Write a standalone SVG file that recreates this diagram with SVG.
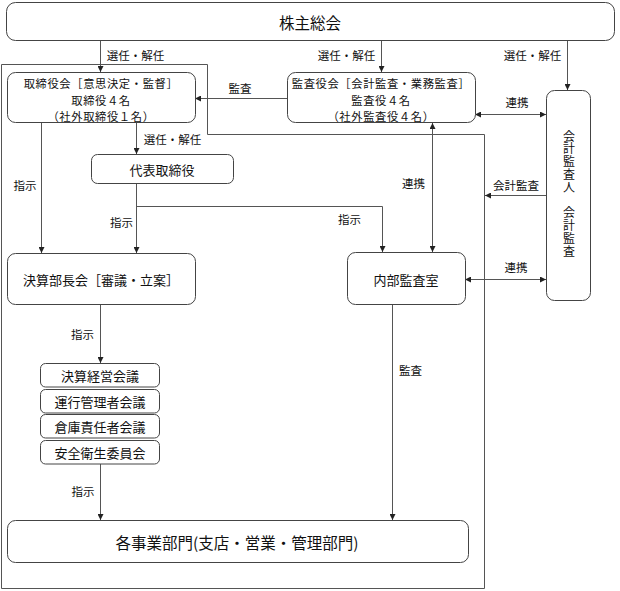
<svg xmlns="http://www.w3.org/2000/svg" width="620" height="591" viewBox="0 0 620 591">
<style>
text{font-family:"Noto Sans CJK JP","Noto Sans",sans-serif;fill:#111;dominant-baseline:central;text-anchor:middle}
.box{fill:#fff;stroke:#444;stroke-width:1}
.ln{fill:none;stroke:#555;stroke-width:1}
.lbl{font-size:11.5px}
.n{font-size:11.3px;letter-spacing:0.6px}
.v{font-size:12px;writing-mode:vertical-rl;text-anchor:start;letter-spacing:0.8px}
.n13{font-size:13px}
.big{font-size:15.5px}
</style>
<defs>
<marker id="ah" viewBox="0 0 6 6" refX="6" refY="3" markerWidth="6" markerHeight="6" markerUnits="userSpaceOnUse" orient="auto-start-reverse">
<path d="M0,0 L6,3 L0,6 z" fill="#222"/>
</marker>
</defs>
<rect width="620" height="591" fill="#fff"/>
<g id="boundary">
<path class="ln" d="M1.5,64.5 H207.5 V134.5 H484.5 V588.5 H1.5 Z"/>
</g>
<g id="connectors">
<path class="ln" d="M100.5,41 V72" marker-end="url(#ah)"/>
<path class="ln" d="M381.5,41 V72" marker-end="url(#ah)"/>
<path class="ln" d="M567.5,41 V90" marker-end="url(#ah)"/>
<path class="ln" d="M287,98.5 H195" marker-end="url(#ah)"/>
<path class="ln" d="M475,114.5 H546" marker-start="url(#ah)" marker-end="url(#ah)"/>
<path class="ln" d="M136.5,123 V154" marker-end="url(#ah)"/>
<path class="ln" d="M41.5,123 V253" marker-end="url(#ah)"/>
<path class="ln" d="M136.5,183 V253" marker-end="url(#ah)"/>
<path class="ln" d="M136.5,206.5 H382.5 V252" marker-end="url(#ah)"/>
<path class="ln" d="M432.5,123 V252" marker-start="url(#ah)" marker-end="url(#ah)"/>
<path class="ln" d="M546,195.5 H485" marker-end="url(#ah)"/>
<path class="ln" d="M465,279.5 H546" marker-start="url(#ah)" marker-end="url(#ah)"/>
<path class="ln" d="M100.5,304 V363" marker-end="url(#ah)"/>
<path class="ln" d="M100.5,464 V520" marker-end="url(#ah)"/>
<path class="ln" d="M392.5,304 V520" marker-end="url(#ah)"/>
<text class="lbl" x="135.5" y="55">選任・解任</text>
<text class="lbl" x="346.5" y="55">選任・解任</text>
<text class="lbl" x="532.5" y="55">選任・解任</text>
<text class="lbl" x="240" y="88">監査</text>
<text class="lbl" x="517" y="102">連携</text>
<text class="lbl" x="172.5" y="139">選任・解任</text>
<text class="lbl" x="25" y="185">指示</text>
<text class="lbl" x="121.5" y="221.5">指示</text>
<text class="lbl" x="349.5" y="219">指示</text>
<text class="lbl" x="413.5" y="183">連携</text>
<text class="lbl" x="516" y="185">会計監査</text>
<text class="lbl" x="516" y="267">連携</text>
<text class="lbl" x="82.5" y="334">指示</text>
<text class="lbl" x="410.5" y="370">監査</text>
<text class="lbl" x="83" y="490.5">指示</text>
</g>
<g id="shareholders">
<rect class="box" x="6.5" y="2.5" width="608" height="38" rx="9"/>
<text class="big" x="310" y="21.5">株主総会</text>
</g>
<g id="board">
<rect class="box" x="7.5" y="72.5" width="188" height="50" rx="8"/>
<text class="n"><tspan x="101" y="83">取締役会［意思決定・監督］</tspan><tspan x="101" y="99.5">取締役４名</tspan><tspan x="101" y="116">（社外取締役１名）</tspan></text>
</g>
<g id="auditors">
<rect class="box" x="287.5" y="72.5" width="188" height="50" rx="8"/>
<text class="n"><tspan x="381" y="83">監査役会［会計監査・業務監査］</tspan><tspan x="381" y="99.5">監査役４名</tspan><tspan x="381" y="116">（社外監査役４名）</tspan></text>
</g>
<g id="accounting-auditor">
<rect class="box" x="546.5" y="90.5" width="44" height="210" rx="8"/>
<text class="v" x="569" y="130">会計監査人　会計監査</text>
</g>
<g id="representative">
<rect class="box" x="91.5" y="154.5" width="142" height="29" rx="6"/>
<text class="n13" x="162" y="169">代表取締役</text>
</g>
<g id="managers">
<rect class="box" x="7.5" y="253.5" width="188" height="51" rx="8"/>
<text class="n13" x="101" y="279">決算部長会［審議・立案］</text>
</g>
<g id="internal-audit">
<rect class="box" x="347.5" y="252.5" width="118" height="52" rx="8"/>
<text class="n13" x="406" y="279">内部監査室</text>
</g>
<g id="meeting1">
<rect class="box" x="40.5" y="363.5" width="119" height="23.5" rx="5"/>
<text class="n13" x="100" y="375.5">決算経営会議</text>
</g>
<g id="meeting2">
<rect class="box" x="40.5" y="389.5" width="119" height="23.5" rx="5"/>
<text class="n13" x="100" y="401.5">運行管理者会議</text>
</g>
<g id="meeting3">
<rect class="box" x="40.5" y="414.5" width="119" height="23.5" rx="5"/>
<text class="n13" x="100" y="426.5">倉庫責任者会議</text>
</g>
<g id="meeting4">
<rect class="box" x="40.5" y="440.5" width="119" height="23.5" rx="5"/>
<text class="n13" x="100" y="452.5">安全衛生委員会</text>
</g>
<g id="divisions">
<rect class="box" x="7.5" y="520.5" width="461" height="42" rx="8"/>
<text class="big" x="237" y="542">各事業部門(支店・営業・管理部門)</text>
</g>
</svg>
